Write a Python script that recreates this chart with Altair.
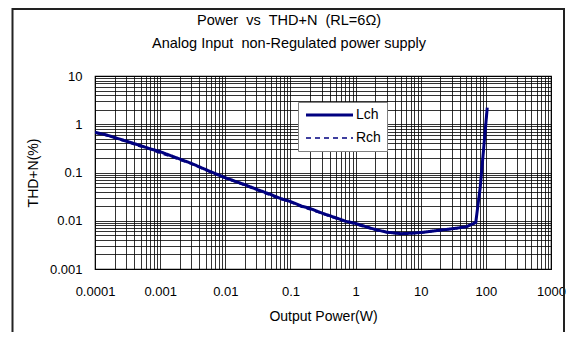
import altair as alt
import pandas as pd

# ---- data ----
lch_power = [0.0001, 0.00015, 0.0002, 0.0003, 0.0005, 0.0007, 0.001, 0.0015, 0.002, 0.003,
             0.005, 0.007, 0.01, 0.015, 0.02, 0.03, 0.05, 0.07, 0.1, 0.15, 0.2, 0.3, 0.5, 0.7,
             1, 1.5, 2, 3, 5, 7, 10, 15, 20, 30, 50, 70, 82, 92, 105]
lch_thd = [0.68, 0.60, 0.53, 0.45, 0.36, 0.31, 0.27, 0.22, 0.19, 0.155,
           0.115, 0.095, 0.078, 0.064, 0.056, 0.045, 0.035, 0.029, 0.025, 0.020, 0.018, 0.0145, 0.0115, 0.0098,
           0.0088, 0.0074, 0.0066, 0.0058, 0.0054, 0.0055, 0.0057, 0.0061, 0.0064, 0.0068, 0.0075, 0.0092, 0.05, 0.29, 2.2]

rch_power = [0.0001, 0.00015, 0.0002, 0.0003, 0.0005, 0.0007, 0.001, 0.0015, 0.002, 0.003,
             0.005, 0.007, 0.01, 0.015, 0.02, 0.03, 0.05, 0.07, 0.1, 0.15, 0.2, 0.3, 0.5, 0.7,
             1, 1.5, 2, 3, 5, 7, 10, 15, 20, 30, 50, 70, 82, 92, 104]
rch_thd = [0.66, 0.58, 0.52, 0.43, 0.34, 0.30, 0.25, 0.21, 0.18, 0.15,
           0.11, 0.092, 0.075, 0.062, 0.053, 0.043, 0.033, 0.028, 0.024, 0.019, 0.017, 0.014, 0.011, 0.0095,
           0.0084, 0.0071, 0.0064, 0.0057, 0.0053, 0.0054, 0.0056, 0.0060, 0.0063, 0.0067, 0.0074, 0.0090, 0.05, 0.29, 2.1]

x_grid = [m * 10.0 ** e for e in range(-4, 3) for m in range(1, 10)] + [1000]
y_grid = [m * 10.0 ** e for e in range(-3, 1) for m in range(1, 10)] + [10]

channels = ["Lch", "Rch"]

df = pd.DataFrame(
    {"power": lch_power, "thd": lch_thd, "ch": "Lch", "o": range(len(lch_power))}
)
df = pd.concat([df, pd.DataFrame(
    {"power": rch_power, "thd": rch_thd, "ch": "Rch", "o": range(len(rch_power))}
)])

FONT = "Liberation Sans"
W, H = 456, 193
is_decade = "abs(log(datum.value)/LN10 - round(log(datum.value)/LN10)) < 0.000001 ? datum.label : ''"

x_enc = alt.X("power:Q", scale=alt.Scale(type="log", domain=[0.0001, 1000], nice=False),
              axis=alt.Axis(values=x_grid, format="~g", labelExpr=is_decade, title="Output Power(W)",
                            labelOverlap=False, labelFlush=False, labelPadding=16, titlePadding=11,
                            ticks=False, domain=False, grid=True))
y_enc = alt.Y("thd:Q", scale=alt.Scale(type="log", domain=[0.001, 10], nice=False),
              axis=alt.Axis(values=y_grid, format="~g", labelExpr=is_decade, title="THD+N(%)",
                            labelOverlap=False, labelFlush=False, labelPadding=13, titlePadding=9,
                            ticks=False, domain=False, grid=True))

lines = alt.Chart(df).mark_line(clip=True).encode(
    x=x_enc, y=y_enc,
    order="o:Q",
    color=alt.Color("ch:N", scale=alt.Scale(domain=channels, range=["#000080", "#000080"]),
                    legend=alt.Legend(title=None, orient="none", legendX=203, legendY=26,
                                      fillColor="white", strokeColor="#808080", padding=6,
                                      symbolType="M-1,0H8.4", symbolSize=100, symbolStrokeWidth=2.5,
                                      labelFontSize=14, labelFont=FONT, labelColor="#000",
                                      rowPadding=9, labelOffset=38)),
    strokeDash=alt.StrokeDash("ch:N", scale=alt.Scale(domain=channels, range=[[1, 0], [5, 4]]),
                              legend=None),
    strokeWidth=alt.StrokeWidth("ch:N", scale=alt.Scale(domain=channels, range=[3, 1.6]), legend=None),
)

frame_df = pd.DataFrame({"k": [0]})
frame = alt.Chart(frame_df).mark_rect(fill=None, stroke="#222", strokeWidth=2, clip=False).encode(
    x=alt.value(-82.5), x2=alt.value(469), y=alt.value(-67), y2=alt.value(300)
)

chart = alt.layer(frame, lines).properties(
    width=W, height=H,
    title=alt.TitleParams(
        text="Power\u00a0\u00a0vs\u00a0\u00a0THD+N\u00a0\u00a0(RL=6\u03a9)",
        subtitle="Analog Input\u00a0\u00a0non-Regulated power supply",
        anchor="middle", frame="group", dx=-34, dy=68, offset=25, fontSize=14.5, subtitleFontSize=14.5,
        font=FONT, subtitleFont=FONT, fontWeight="normal", color="#000", subtitleColor="#000",
        subtitlePadding=8,
    ),
    autosize=alt.AutoSizeParams(type="none"),
    padding={"left": 87, "top": 68, "right": 15, "bottom": 63},
).configure_view(stroke="#000", strokeWidth=1.2).configure_axis(
    gridColor="#000", gridOpacity=0.8, gridWidth=1,
    labelFont=FONT, labelFontSize=13, labelColor="#000",
    titleFont=FONT, titleFontSize=14, titleFontWeight="normal", titleColor="#000",
)

chart.save("out.html", embed_options={"renderer": "svg", "actions": False})
